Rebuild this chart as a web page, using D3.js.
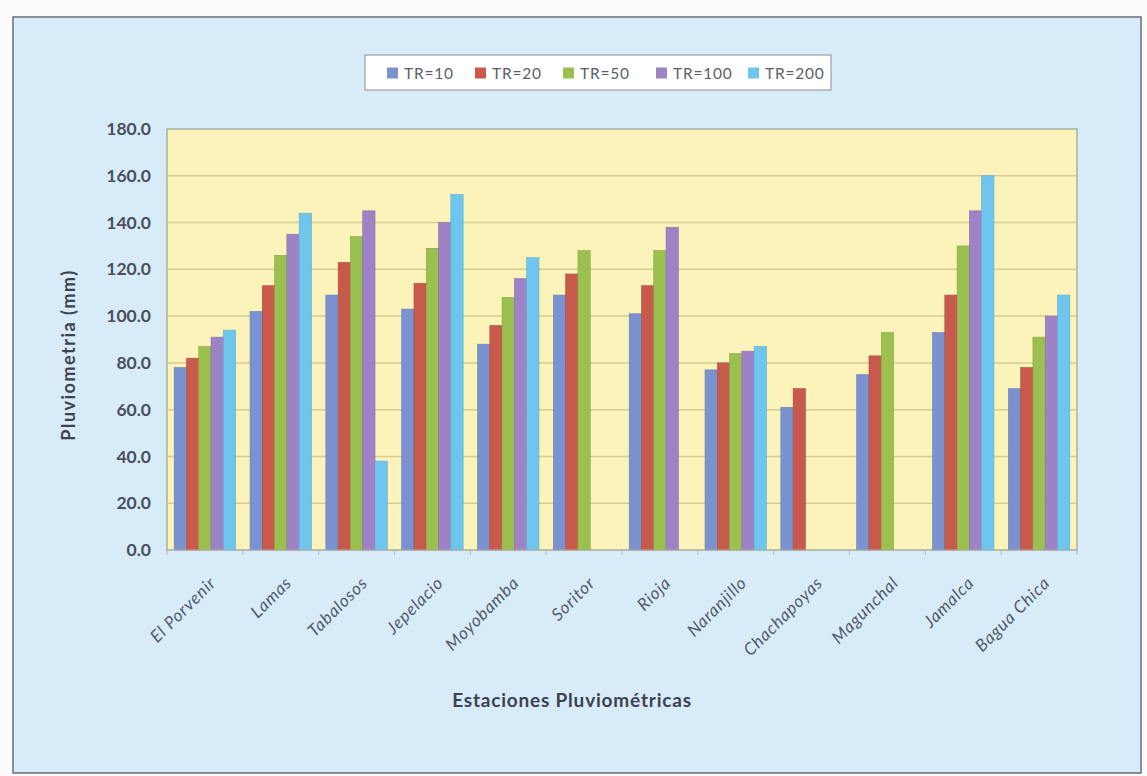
<!DOCTYPE html>
<html>
<head>
<meta charset="utf-8">
<script src="https://cdn.jsdelivr.net/npm/d3@7"></script>
<style>
  body { margin: 0; background: #fbfbfb; }
  svg { display: block; font-family: Lato, "Open Sans", sans-serif; }
</style>
</head>
<body>
<div id="chart"></div>
<script>
const stations = ["El Porvenir", "Lamas", "Tabalosos", "Jepelacio", "Moyobamba", "Soritor", "Rioja", "Naranjillo", "Chachapoyas", "Magunchal", "Jamalca", "Bagua Chica"];
const seriesNames = ["TR=10", "TR=20", "TR=50", "TR=100", "TR=200"];
const tr10  = [78, 102, 109, 103, 88, 109, 101, 77, 61, 75, 93, 69];
const tr20  = [82, 113, 123, 114, 96, 118, 113, 80, 69, 83, 109, 78];
const tr50  = [87, 126, 134, 129, 108, 128, 128, 84, null, 93, 130, 91];
const tr100 = [91, 135, 145, 140, 116, null, 138, 85, null, null, 145, 100];
const tr200 = [94, 144, 38, 152, 125, null, null, 87, null, null, 160, 109];
const yTicks = [0, 20, 40, 60, 80, 100, 120, 140, 160, 180];

const colors = ["#7a92d0", "#c85a4c", "#9bc04f", "#9d82c6", "#6ec6ee"];
const series = [tr10, tr20, tr50, tr100, tr200];

const width = 1147, height = 776;
const plot = { left: 167, right: 1077, top: 129, bottom: 550 };

const svg = d3.select("#chart").append("svg")
    .attr("width", width)
    .attr("height", height);

// outer chart area
svg.append("rect")
    .attr("x", 13).attr("y", 17)
    .attr("width", 1128).attr("height", 756)
    .attr("fill", "#d7ecf8")
    .attr("stroke", "#6a6d78")
    .attr("stroke-width", 1.5);

// plot background
svg.append("rect")
    .attr("x", plot.left).attr("y", plot.top)
    .attr("width", plot.right - plot.left).attr("height", plot.bottom - plot.top)
    .attr("fill", "#fbf3b9")
    .attr("stroke", "#8f8f88")
    .attr("stroke-width", 1);

const y = d3.scaleLinear().domain([0, 180]).range([plot.bottom, plot.top]);
const x0 = d3.scaleBand().domain(stations).range([plot.left, plot.right])
    .paddingInner(0.19).paddingOuter(0.095);
const x1 = d3.scaleBand().domain(d3.range(seriesNames.length)).range([0, x0.bandwidth()]);

// gridlines
svg.append("g")
    .selectAll("line")
    .data(yTicks.filter(d => d > 0 && d < 180))
    .join("line")
    .attr("x1", plot.left).attr("x2", plot.right)
    .attr("y1", d => y(d)).attr("y2", d => y(d))
    .attr("stroke", "#d6cb92")
    .attr("stroke-width", 1.5);

// y axis labels
svg.append("g")
    .selectAll("text")
    .data(yTicks)
    .join("text")
    .attr("x", plot.left - 16)
    .attr("y", d => y(d))
    .attr("dy", "0.35em")
    .attr("text-anchor", "end")
    .attr("font-size", 17.5)
    .attr("font-weight", "bold")
    .attr("fill", "#4a4f5e")
    .text(d => d.toFixed(1));

// bars
const groups = svg.append("g")
    .selectAll("g")
    .data(stations)
    .join("g")
    .attr("transform", d => `translate(${x0(d)},0)`);

groups.selectAll("rect")
    .data((d, i) => series.map((s, k) => ({ k: k, v: s[i] })).filter(e => e.v != null))
    .join("rect")
    .attr("x", d => x1(d.k))
    .attr("width", x1.bandwidth())
    .attr("y", d => y(d.v))
    .attr("height", d => y(0) - y(d.v))
    .attr("fill", d => colors[d.k])
    .attr("stroke", d => d3.color(colors[d.k]).darker(0.4))
    .attr("stroke-width", 0.6);

// x axis line and ticks between categories
svg.append("line")
    .attr("x1", plot.left).attr("x2", plot.right)
    .attr("y1", plot.bottom).attr("y2", plot.bottom)
    .attr("stroke", "#b8b8a8");
const step = x0.step();
svg.append("g")
    .selectAll("line")
    .data(d3.range(stations.length + 1))
    .join("line")
    .attr("x1", i => plot.left + i * step).attr("x2", i => plot.left + i * step)
    .attr("y1", plot.bottom).attr("y2", plot.bottom + 5)
    .attr("stroke", "#b8b8a8");

// category labels
svg.append("g")
    .selectAll("text")
    .data(stations)
    .join("text")
    .attr("transform", d => `translate(${x0(d) + x0.bandwidth() / 2 + 12},${plot.bottom + 34}) rotate(-45)`)
    .attr("text-anchor", "end")
    .attr("font-size", 17)
    .attr("font-style", "italic")
    .attr("letter-spacing", 0.8)
    .attr("fill", "#535a6c")
    .text(d => d);

// axis titles
svg.append("text")
    .attr("transform", `translate(75,355) rotate(-90)`)
    .attr("text-anchor", "middle")
    .attr("font-size", 18)
    .attr("font-weight", "bold")
    .attr("letter-spacing", 1.5)
    .attr("fill", "#3d4250")
    .text("Pluviometria (mm)");

svg.append("text")
    .attr("x", 572).attr("y", 707)
    .attr("text-anchor", "middle")
    .attr("font-size", 19)
    .attr("font-weight", "bold")
    .attr("letter-spacing", 0.8)
    .attr("fill", "#3d4250")
    .text("Estaciones Pluviométricas");

// legend
const legend = svg.append("g").attr("transform", "translate(365,55)");
legend.append("rect")
    .attr("width", 466).attr("height", 35)
    .attr("fill", "#ffffff")
    .attr("stroke", "#8a8c96");
const legendX = [22, 110, 198, 291, 383];
const items = legend.selectAll("g.item")
    .data(seriesNames)
    .join("g")
    .attr("class", "item")
    .attr("transform", (d, i) => `translate(${legendX[i]},18)`);
items.append("rect")
    .attr("x", 0).attr("y", -5.5)
    .attr("width", 11).attr("height", 11)
    .attr("fill", (d, i) => colors[i]);
items.append("text")
    .attr("x", 17).attr("dy", "0.36em")
    .attr("font-size", 15.5)
    .attr("letter-spacing", 0.8)
    .attr("fill", "#5a5e6a")
    .text(d => d);
</script>
</body>
</html>
